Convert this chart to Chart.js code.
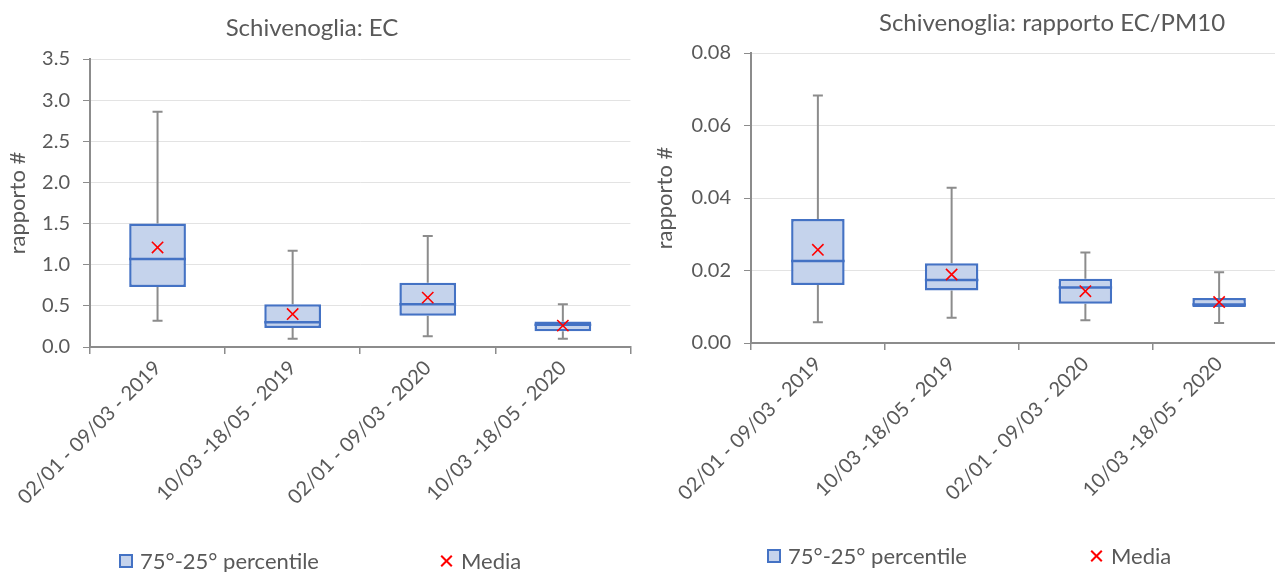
<!DOCTYPE html>
<html>
<head>
<meta charset="utf-8">
<script src="https://cdn.jsdelivr.net/npm/chart.js@4/dist/chart.umd.min.js"></script>
<style>
  body { margin: 0; width: 1275px; height: 572px; overflow: hidden; background: #fff; position: relative; font-family: Lato, sans-serif; color: #595959; }
  canvas { position: absolute; top: 0; }
  .title { position: absolute; transform: translateX(-50%); white-space: nowrap; font-size: 24px; }
  .legend { position: absolute; white-space: nowrap; font-size: 22px; display: flex; align-items: center; }
  .swatch { display: inline-block; width: 10px; height: 10px; border: 2px solid #4472c4; background: #c5d3ec; margin-right: 7px; }
  .cross { display: inline-block; position: relative; width: 13px; height: 13px; margin-right: 8px; }
  .cross::before, .cross::after { content: ""; position: absolute; left: -1px; top: 5.5px; width: 15px; height: 2px; background: #ff0000; }
  .cross::before { transform: rotate(45deg); }
  .cross::after { transform: rotate(-45deg); }
</style>
</head>
<body>
<canvas id="ecChart" width="640" height="572" style="left:0"></canvas>
<canvas id="ratioChart" width="660" height="572" style="left:640px"></canvas>

<div class="title" style="left:312px; top:12px">Schivenoglia: EC</div>
<div class="title" style="left:1052px; top:7px">Schivenoglia: rapporto EC/PM10</div>

<div class="legend" style="left:119px; top:547px"><span class="swatch"></span>75°-25° percentile</div>
<div class="legend" style="left:440px; top:547px"><span class="cross"></span>Media</div>
<div class="legend" style="left:767px; top:542px"><span class="swatch"></span>75°-25° percentile</div>
<div class="legend" style="left:1090px; top:542px"><span class="cross"></span>Media</div>

<script>
// ----------- Data ------------
const periods = ["02/01 - 09/03 - 2019", "10/03 -18/05 - 2019", "02/01 - 09/03 - 2020", "10/03 -18/05 - 2020"];

// EC
const ecMin    = [0.32, 0.10, 0.13, 0.10];
const ecQ1     = [0.73, 0.23, 0.38, 0.19];
const ecMedian = [1.07, 0.30, 0.52, 0.27];
const ecQ3     = [1.50, 0.52, 0.78, 0.31];
const ecMax    = [2.86, 1.17, 1.35, 0.52];
const ecMean   = [1.21, 0.40, 0.60, 0.26];
const ecTicks  = [0, 0.5, 1.0, 1.5, 2.0, 2.5, 3.0, 3.5];

// rapporto EC/PM10
const ratioMin    = [0.0057, 0.0070, 0.0063, 0.0055];
const ratioQ1     = [0.0160, 0.0145, 0.0108, 0.0099];
const ratioMedian = [0.0226, 0.0174, 0.0153, 0.0106];
const ratioQ3     = [0.0342, 0.0220, 0.0177, 0.0124];
const ratioMax    = [0.0683, 0.0428, 0.0250, 0.0195];
const ratioMean   = [0.0257, 0.0189, 0.0143, 0.0113];
const ratioTicks  = [0, 0.02, 0.04, 0.06, 0.08];

const GREY = "#595959";
const AXIS = "#8c8c8c";

// whiskers behind the boxes, median line on top of the box
const boxWhiskers = {
  id: "boxWhiskers",
  beforeDatasetsDraw(chart, args, opts) {
    const { ctx, scales: { x, y } } = chart;
    ctx.save();
    ctx.strokeStyle = AXIS;
    ctx.lineWidth = 2;
    opts.lo.forEach((lo, i) => {
      const px = x.getPixelForValue(i);
      const segs = [[lo, opts.q1[i]], [opts.q3[i], opts.hi[i]]];
      ctx.beginPath();
      segs.forEach(([a, b]) => {
        ctx.moveTo(px, y.getPixelForValue(a));
        ctx.lineTo(px, y.getPixelForValue(b));
      });
      [lo, opts.hi[i]].forEach((v) => {
        const py = y.getPixelForValue(v);
        ctx.moveTo(px - 5, py);
        ctx.lineTo(px + 5, py);
      });
      ctx.stroke();
    });
    ctx.restore();
  },
  afterDatasetDraw(chart, args, opts) {
    if (args.index !== 0) return;
    const { ctx, scales: { y } } = chart;
    ctx.save();
    ctx.strokeStyle = "#4472c4";
    ctx.lineWidth = 2.5;
    args.meta.data.forEach((bar, i) => {
      const py = y.getPixelForValue(opts.mid[i]);
      ctx.beginPath();
      ctx.moveTo(bar.x - bar.width / 2, py);
      ctx.lineTo(bar.x + bar.width / 2, py);
      ctx.stroke();
    });
    ctx.restore();
  },
};

function makeChart(id, s) {
  const font = { family: "Lato", size: 20 };
  return new Chart(document.getElementById(id), {
    type: "bar",
    data: {
      labels: periods,
      datasets: [
        {
          label: "75°-25° percentile",
          data: s.q1.map((v, i) => [v, s.q3[i]]),
          backgroundColor: "#c5d3ec",
          borderColor: "#4472c4",
          borderWidth: 2.5,
          borderSkipped: false,
          barPercentage: s.barPct,
          categoryPercentage: 1,
          order: 1,
        },
        {
          type: "line",
          label: "Media",
          data: s.mean,
          showLine: false,
          pointStyle: "crossRot",
          pointRadius: 8,
          pointBorderWidth: 1.6,
          borderColor: "#ff0000",
          backgroundColor: "#ff0000",
          order: 0,
        },
      ],
    },
    options: {
      responsive: false,
      animation: false,
      layout: { padding: s.padding },
      plugins: {
        legend: { display: false },
        tooltip: { enabled: false },
        boxWhiskers: { lo: s.min, q1: s.q1, q3: s.q3, hi: s.max, mid: s.median },
      },
      scales: {
        x: {
          offset: true,
          grid: { offset: true, drawOnChartArea: false, tickLength: 7, tickColor: AXIS, lineWidth: 1.5 },
          border: { color: AXIS, width: 2 },
          ticks: { color: GREY, font, maxRotation: 45, minRotation: 45, padding: 2 },
          afterFit: (scale) => { scale.height = s.xHeight; },
        },
        y: {
          min: 0,
          max: s.ticks[s.ticks.length - 1],
          afterBuildTicks: (scale) => { scale.ticks = s.ticks.map((v) => ({ value: v })); },
          grid: { color: "#e3e3e3", tickColor: AXIS, tickLength: 7 },
          border: { color: AXIS, width: 2 },
          ticks: { color: GREY, font, padding: 13, callback: (v) => v.toFixed(s.decimals) },
          title: { display: true, text: "rapporto #", color: GREY, font: { family: "Lato", size: 22 }, padding: s.titlePad },
          afterFit: (scale) => { scale.width = s.yWidth; },
        },
      },
    },
    plugins: [boxWhiskers],
  });
}

makeChart("ecChart", {
  min: ecMin, q1: ecQ1, median: ecMedian, q3: ecQ3, max: ecMax, mean: ecMean,
  ticks: ecTicks, decimals: 1, barPct: 0.42,
  padding: { top: 59, right: 8, left: 0, bottom: 0 },
  xHeight: 225, yWidth: 90, titlePad: { top: 5, bottom: 0 },
});

makeChart("ratioChart", {
  min: ratioMin, q1: ratioQ1, median: ratioMedian, q3: ratioQ3, max: ratioMax, mean: ratioMean,
  ticks: ratioTicks, decimals: 2, barPct: 0.40,
  padding: { top: 53, right: 14, left: 0, bottom: 0 },
  xHeight: 229, yWidth: 111, titlePad: { top: 12, bottom: 0 },
});
</script>
</body>
</html>
